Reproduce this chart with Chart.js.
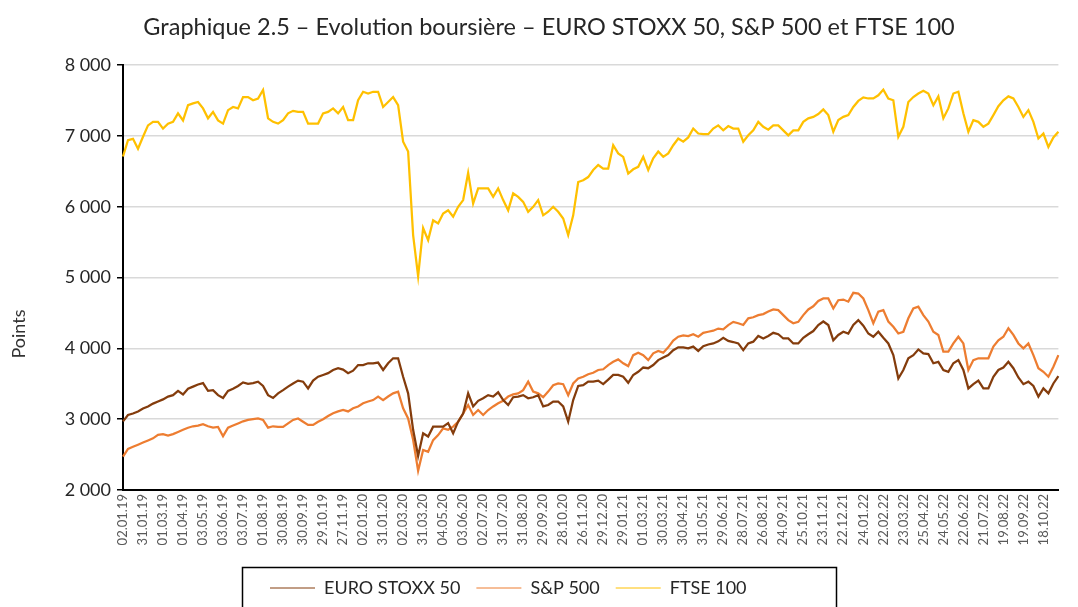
<!DOCTYPE html>
<html>
<head>
<meta charset="utf-8">
<script src="https://cdn.jsdelivr.net/npm/chart.js@4.4.0/dist/chart.umd.min.js"></script>
<style>
  html, body { margin: 0; padding: 0; background: #fff; overflow: hidden; }
</style>
</head>
<body>
<canvas id="chart" width="1078" height="640"></canvas>
<script>
// one value every ~5 trading days, a date label every 4th value (21 trading days)
const tickLabels = [
  "02.01.19", "31.01.19", "01.03.19", "01.04.19", "03.05.19", "03.06.19", "03.07.19", "01.08.19",
  "30.08.19", "30.09.19", "29.10.19", "27.11.19", "02.01.20", "31.01.20", "02.03.20", "31.03.20",
  "04.05.20", "03.06.20", "02.07.20", "31.07.20", "31.08.20", "29.09.20", "28.10.20", "26.11.20",
  "29.12.20", "29.01.21", "01.03.21", "30.03.21", "30.04.21", "31.05.21", "29.06.21", "28.07.21",
  "26.08.21", "24.09.21", "25.10.21", "23.11.21", "22.12.21", "24.01.22", "22.02.22", "23.03.22",
  "25.04.22", "24.05.22", "22.06.22", "21.07.22", "19.08.22", "19.09.22", "18.10.22"
];

const euroStoxx = [
  2970, 3060, 3080, 3110, 3150, 3180, 3220, 3250, 3280, 3320, 3340, 3400, 3350, 3430, 3460, 3490,
  3510, 3400, 3410, 3340, 3300, 3400, 3430, 3470, 3520, 3500, 3510, 3530, 3470, 3340, 3300,
  3365, 3410, 3460, 3505, 3545, 3530, 3435, 3545, 3600, 3625, 3650, 3695, 3720, 3700, 3650, 3685,
  3765, 3765, 3790, 3790, 3800, 3695, 3790, 3860, 3860, 3600, 3365, 2850, 2480, 2800, 2755,
  2895, 2895, 2895, 2945, 2800, 2965, 3080, 3365, 3180, 3260, 3295, 3340, 3320, 3380, 3270, 3200,
  3310, 3320, 3340, 3295, 3310, 3340, 3180, 3200, 3250, 3250, 3180, 2965, 3270, 3470, 3480, 3530,
  3530, 3545, 3495, 3560, 3625, 3625, 3600, 3515, 3625, 3670, 3730, 3720, 3765, 3835, 3870, 3905,
  3975, 4015, 4015, 4000, 4025, 3965, 4030, 4055, 4070, 4100, 4150, 4105, 4090, 4070, 3975,
  4070, 4095, 4175, 4140, 4175, 4220, 4200, 4140, 4140, 4070, 4070, 4150, 4200, 4245, 4330, 4380,
  4330, 4115, 4190, 4235, 4210, 4330, 4400, 4320, 4210, 4165, 4235, 4150, 4070, 3905, 3575,
  3695, 3860, 3905, 3985, 3930, 3920, 3790, 3810, 3695, 3670, 3790, 3835, 3695, 3435, 3495, 3545,
  3435, 3435, 3600, 3695, 3730, 3810, 3720, 3590, 3495, 3530, 3470, 3320, 3435, 3365, 3505, 3610
];

const sp500 = [
  2470, 2580, 2610, 2640, 2670, 2700, 2730, 2780, 2790, 2770, 2790, 2820, 2850, 2880, 2900, 2910,
  2930, 2900, 2880, 2890, 2760, 2880, 2910, 2940, 2970, 2990, 3000, 3010, 2990, 2880, 2900,
  2890, 2890, 2940, 2990, 3010, 2965, 2920, 2920, 2965, 3000, 3045, 3085, 3110, 3130, 3110, 3155,
  3180, 3225, 3250, 3270, 3320, 3270, 3320, 3365, 3390, 3155, 3010, 2710, 2270, 2565, 2540,
  2705, 2775, 2870, 2850, 2895, 2965, 3080, 3200, 3060, 3130, 3060, 3130, 3180, 3225, 3260, 3320,
  3350, 3365, 3410, 3530, 3390, 3365, 3310, 3390, 3480, 3505, 3495, 3340, 3505, 3575, 3600, 3635,
  3655, 3695, 3705, 3765, 3810, 3845, 3790, 3750, 3905, 3940, 3905, 3835, 3930, 3965, 3940, 4015,
  4110, 4165, 4185, 4175, 4200, 4165, 4220, 4235, 4250, 4280, 4270, 4330, 4375, 4355, 4330,
  4425, 4440, 4470, 4485, 4520, 4550, 4540, 4470, 4400, 4355, 4375, 4470, 4550, 4595, 4670, 4705,
  4705, 4565, 4680, 4690, 4660, 4785, 4775, 4705, 4540, 4355, 4520, 4540, 4380, 4305, 4210,
  4235, 4425, 4565, 4590, 4470, 4380, 4235, 4190, 3955, 3955, 4070, 4165, 4070, 3695, 3835, 3860,
  3860, 3860, 4025, 4115, 4165, 4285, 4190, 4070, 4000, 4070, 3905, 3720, 3670, 3600, 3740, 3905
];

const ftse = [
  6710, 6940, 6960, 6820, 6990, 7150, 7200, 7200, 7105, 7175, 7200, 7320, 7220, 7435, 7460, 7480,
  7390, 7250, 7340, 7220, 7175, 7365, 7410, 7390, 7550, 7550, 7505, 7530, 7650, 7250, 7200,
  7175, 7225, 7320, 7355, 7340, 7340, 7175, 7175, 7175, 7320, 7340, 7390, 7320, 7410, 7225, 7225,
  7505, 7625, 7600, 7625, 7625, 7410, 7480, 7550, 7435, 6920, 6780, 5600, 5020, 5700, 5530,
  5810, 5765, 5905, 5950, 5860, 6000, 6095, 6480, 6045, 6260, 6260, 6260, 6140, 6260, 6095, 5950,
  6190, 6140, 6070, 5930, 6000, 6095, 5880, 5930, 6000, 5930, 5835, 5600, 5880, 6350, 6375, 6420,
  6520, 6590, 6540, 6540, 6870, 6755, 6705, 6470, 6530, 6565, 6705, 6520, 6685, 6780, 6705, 6755,
  6870, 6965, 6920, 6980, 7105, 7035, 7025, 7025, 7105, 7150, 7080, 7140, 7105, 7105, 6920,
  7010, 7080, 7200, 7130, 7090, 7150, 7150, 7080, 7010, 7080, 7080, 7200, 7250, 7270, 7310, 7375,
  7295, 7060, 7225, 7270, 7295, 7410, 7495, 7545, 7530, 7530, 7575, 7655, 7530, 7505, 6990,
  7130, 7480, 7550, 7600, 7640, 7600, 7435, 7560, 7250, 7390, 7600, 7625, 7320, 7060, 7225, 7200,
  7130, 7175, 7295, 7420, 7505, 7560, 7530, 7410, 7270, 7365, 7200, 6965, 7035, 6845, 6980, 7060
];

const perTick = 4;
const labels = euroStoxx.map((v, i) => (i % perTick === 0 ? tickLabels[i / perTick] : ""));
const font = "Lato, 'Open Sans', sans-serif";
const canvasH = 640;
const plotLeft = 123;
const plotBottom = 490;
const padLeft = 22;
const padBottom = 16;

// y title sits low like in the source, plus the framed legend
const extras = {
  id: "extras",
  afterLayout(chart) {
    chart.legend.left = 254;
    chart.legend.top = 563;
  },
  afterDraw(chart) {
    const ctx = chart.ctx;
    ctx.save();
    ctx.strokeStyle = "#000";
    ctx.lineWidth = 1.5;
    ctx.strokeRect(242.5, 567.5, 594, 70);
    ctx.translate(19, 334);
    ctx.rotate(-Math.PI / 2);
    ctx.fillStyle = "#333";
    ctx.font = "18px " + font;
    ctx.textAlign = "center";
    ctx.textBaseline = "middle";
    ctx.fillText("Points", 0, 0);
    ctx.restore();
  }
};

new Chart(document.getElementById("chart").getContext("2d"), {
  type: "line",
  data: {
    labels: labels,
    datasets: [
      { label: "EURO STOXX 50", data: euroStoxx, borderColor: "#843C0C", backgroundColor: "#843C0C" },
      { label: "S&P 500", data: sp500, borderColor: "#ED7D31", backgroundColor: "#ED7D31" },
      { label: "FTSE 100", data: ftse, borderColor: "#FFC000", backgroundColor: "#FFC000" }
    ]
  },
  options: {
    responsive: false,
    animation: false,
    devicePixelRatio: 1,
    elements: {
      line: { borderWidth: 2.25, tension: 0 },
      point: { radius: 0 }
    },
    layout: { padding: { left: padLeft, right: 2, top: 0, bottom: padBottom } },
    plugins: {
      title: {
        display: true,
        text: "Graphique 2.5 – Evolution boursière – EURO STOXX 50, S&P 500 et FTSE 100",
        color: "#262626",
        font: { family: font, size: 23.5, weight: "normal" },
        padding: { top: 13, bottom: 24 }
      },
      legend: {
        position: "bottom",
        align: "start",
        labels: {
          color: "#262626",
          font: { family: font, size: 18 },
          usePointStyle: true,
          pointStyle: "line",
          pointStyleWidth: 45,
          boxWidth: 45,
          padding: 16
        }
      },
      tooltip: { enabled: false }
    },
    scales: {
      x: {
        offset: false,
        grid: { display: false, drawTicks: false },
        border: { display: true, color: "#000", width: 2 },
        ticks: {
          autoSkip: false,
          maxRotation: 90,
          minRotation: 90,
          padding: 4,
          color: "#595959",
          font: { family: font, size: 13 }
        },
        afterFit(scale) {
          scale.height = canvasH - padBottom - plotBottom - scale.chart.legend.height;
        }
      },
      y: {
        min: 2000,
        max: 8000,
        grid: { color: "#d9d9d9", lineWidth: 1.5, tickColor: "#000", tickLength: 6 },
        border: { display: true, color: "#000", width: 2 },
        ticks: {
          stepSize: 1000,
          padding: 6,
          color: "#262626",
          font: { family: font, size: 18 },
          callback: (v) => String(v).replace(/\B(?=(\d{3})+(?!\d))/g, " ")
        },
        afterFit(scale) { scale.width = plotLeft - padLeft; }
      }
    }
  },
  plugins: [extras]
});
</script>
</body>
</html>
